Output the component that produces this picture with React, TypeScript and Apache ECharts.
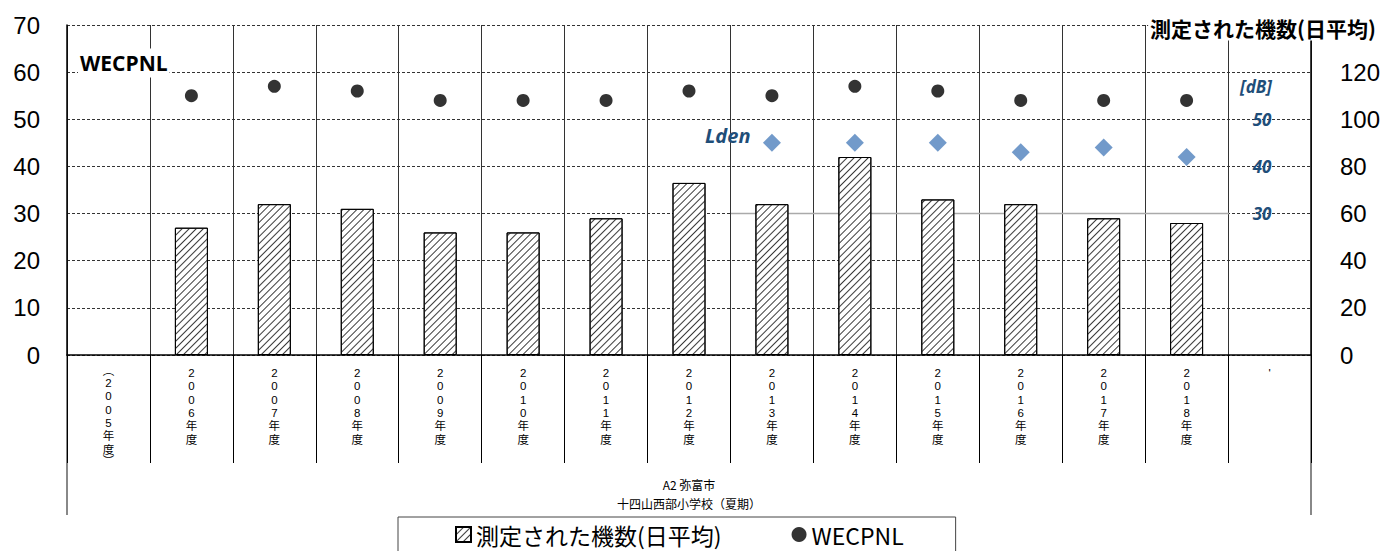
import React, { useEffect, useRef } from "react";
import * as echarts from "echarts";

const categories = [
  "（2005年度）", "2006年度", "2007年度", "2008年度", "2009年度", "2010年度", "2011年度",
  "2012年度", "2013年度", "2014年度", "2015年度", "2016年度", "2017年度", "2018年度", "",
];
const flightCounts = [null, 54, 64, 62, 52, 52, 58, 73, 64, 84, 66, 64, 58, 56, null];
const wecpnl = [null, 55, 57, 56, 54, 54, 54, 56, 55, 57, 56, 54, 54, 54, null];
const lden = [null, null, null, null, null, null, null, null, 45, 45, 45, 43, 44, 42, null];
const leftTicks = [0, 10, 20, 30, 40, 50, 60, 70];
const rightTicks = [0, 20, 40, 60, 80, 100, 120, 140];
const ldenTicks = [50, 40, 30];

const BAR_NAME = "測定された機数(日平均)";
const SITE_LABEL = "A2 弥富市\n十四山西部小学校（夏期）";

export default function App() {
  const ref = useRef<HTMLDivElement>(null);
  useEffect(() => {
    if (!ref.current) return;
    const chart = echarts.init(ref.current, null, { renderer: "svg" });
    const L = 67, R = 1311, T = 25, B = 355;
    const blue = "#1F4E79";
    const labelFont = "Liberation Sans, Noto Sans CJK JP";
    const option: any = {
      animation: false,
      grid: { left: L, right: 1384 - R, top: T, bottom: 551 - B },
      xAxis: {
        type: "category",
        data: categories,
        boundaryGap: true,
        axisLine: { show: true, lineStyle: { color: "#000", width: 1.5 } },
        axisTick: { show: true, interval: 0, length: 108, lineStyle: { color: "#000", width: 1 } },
        splitLine: { show: true, interval: 0, lineStyle: { color: "#333", width: 1 } },
        axisLabel: {
          interval: 0,
          margin: 11,
          fontSize: 11.5,
          lineHeight: 13.4,
          color: "#000",
          verticalAlign: "top",
          fontFamily: labelFont,
          rich: {
            p: { fontSize: 11.5, lineHeight: 10, fontFamily: labelFont, color: "#000" },
          },
          formatter: (v: string) => {
            if (!v) return "'";
            return v
              .split("")
              .map((c) => (c === "（" ? "{p|︵}" : c === "）" ? "{p|︶}" : c))
              .join("\n");
          },
        },
      },
      yAxis: [
        {
          type: "value",
          position: "left",
          min: leftTicks[0],
          max: leftTicks[leftTicks.length - 1],
          interval: 10,
          axisLine: { show: true, lineStyle: { color: "#000", width: 1.5 } },
          axisTick: { show: false },
          splitLine: { show: true, lineStyle: { color: "#333", type: [3, 2], width: 1 } },
          axisLabel: { fontSize: 24, margin: 27, color: "#000", fontFamily: "Liberation Sans" },
        },
        {
          type: "value",
          position: "right",
          min: rightTicks[0],
          max: rightTicks[rightTicks.length - 1],
          interval: 20,
          axisLine: { show: true, lineStyle: { color: "#000", width: 1.5 } },
          axisTick: { show: false },
          splitLine: { show: false },
          axisLabel: {
            fontSize: 24,
            margin: 29,
            color: "#000",
            fontFamily: "Liberation Sans",
            formatter: (v: number) => (v === 140 ? "" : String(v)),
          },
        },
      ],
      legend: {
        left: 398,
        top: 517,
        padding: [6, 52, 20, 57],
        itemGap: 70,
        itemWidth: 15,
        itemHeight: 15,
        borderColor: "#444",
        borderWidth: 1,
        textStyle: { fontSize: 23, color: "#000", fontFamily: "Noto Sans CJK JP" },
        data: [
          { name: BAR_NAME, icon: "rect" },
          { name: "WECPNL", icon: "circle" },
        ],
      },
      series: [
        {
          name: BAR_NAME,
          type: "bar",
          yAxisIndex: 1,
          data: flightCounts,
          barWidth: 33,
          itemStyle: {
            color: "#fff",
            borderColor: "#000",
            borderWidth: 1,
            decal: {
              symbol: "rect",
              symbolSize: 1,
              dashArrayX: [1, 0],
              dashArrayY: [1, 3.2],
              rotation: -Math.PI / 4,
              color: "#3a3a3a",
              backgroundColor: "#fff",
            },
          },
        },
        {
          name: "WECPNL",
          type: "scatter",
          yAxisIndex: 0,
          data: wecpnl,
          symbol: "circle",
          symbolSize: 13,
          itemStyle: { color: "#000" },
        },
        {
          name: "Lden",
          type: "scatter",
          yAxisIndex: 0,
          data: lden,
          symbol: "diamond",
          symbolSize: [18, 18],
          itemStyle: { color: "#4F81BD" },
        },
      ],
    };
    chart.setOption(option);

    const ldenY = ldenTicks.map((v) => chart.convertToPixel({ yAxisIndex: 0 }, v));
    const graphics: any[] = [
      {
        type: "line",
        shape: { x1: 731, y1: ldenY[2], x2: 1229, y2: ldenY[2] },
        style: { stroke: "#aaa", lineWidth: 1.5 },
        z: 1,
      },
      {
        type: "line",
        shape: { x1: L, y1: B, x2: L, y2: 515 },
        style: { stroke: "#888", lineWidth: 2 },
      },
      {
        type: "line",
        shape: { x1: R, y1: B, x2: R, y2: 515 },
        style: { stroke: "#888", lineWidth: 2 },
      },
      {
        type: "text",
        x: 1378,
        y: 28,
        z: 10,
        style: {
          text: BAR_NAME,
          fontSize: 21,
          fontWeight: "bold",
          fontFamily: "Noto Sans CJK JP",
          fill: "#000",
          align: "right",
          verticalAlign: "middle",
          backgroundColor: "#fff",
          padding: [2, 2],
        },
      },
      {
        type: "text",
        x: 78,
        y: 63,
        z: 10,
        style: {
          text: "WECPNL",
          fontSize: 21,
          fontWeight: "bold",
          fontFamily: "Open Sans",
          fill: "#000",
          align: "left",
          verticalAlign: "middle",
          backgroundColor: "#fff",
          padding: [4, 2],
        },
      },
      {
        type: "text",
        x: 705,
        y: 135,
        z: 10,
        style: {
          text: "Lden",
          fontSize: 20,
          fontWeight: "bold",
          fontStyle: "italic",
          fontFamily: "Open Sans",
          fill: blue,
          align: "left",
          verticalAlign: "middle",
        },
      },
      {
        type: "text",
        x: 1256,
        y: 86,
        z: 10,
        style: {
          text: "[dB]",
          fontSize: 17,
          fontWeight: "bold",
          fontStyle: "italic",
          fontFamily: "Open Sans",
          fill: blue,
          align: "center",
          verticalAlign: "middle",
        },
      },
      ...ldenTicks.map((t, i) => ({
        type: "text",
        x: 1262,
        y: ldenY[i],
        z: 10,
        style: {
          text: String(t),
          fontSize: 17,
          fontStyle: "italic",
          fontWeight: "bold",
          fontFamily: "Open Sans",
          fill: blue,
          align: "center",
          verticalAlign: "middle",
        },
      })),
      {
        type: "text",
        x: (L + R) / 2,
        y: 494,
        style: {
          text: SITE_LABEL,
          fontSize: 12,
          lineHeight: 19,
          fontFamily: "Noto Sans CJK JP",
          fill: "#000",
          align: "center",
          verticalAlign: "middle",
        },
      },
    ];
    chart.setOption({ graphic: graphics });
    return () => chart.dispose();
  }, []);
  return (
    <div
      ref={ref}
      style={{ position: "fixed", left: 0, top: 0, width: 1384, height: 551, background: "#fff" }}
    />
  );
}
